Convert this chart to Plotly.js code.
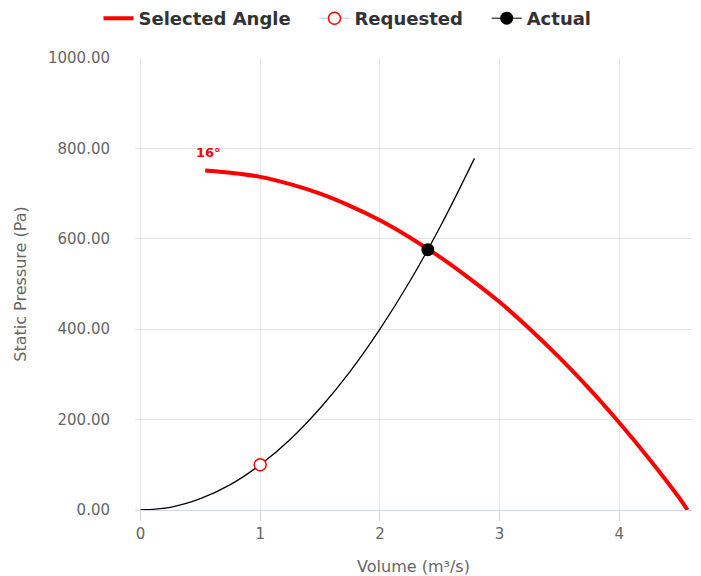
<!DOCTYPE html>
<html>
<head>
<meta charset="utf-8">
<script src="https://cdn.plot.ly/plotly-3.0.1.min.js"></script>
<style>html,body{margin:0;padding:0;background:#fff}#chart{width:701px;height:576px}</style>
</head>
<body>
<div id="chart"></div>
<script>
// Fan curve (Selected Angle 16°)
const fanVolume = [0.54, 0.75, 1.0, 1.25, 1.5, 1.75, 2.0, 2.25, 2.5, 2.75, 3.0, 3.25, 3.5, 3.75, 4.0, 4.25, 4.5, 4.57];
const fanPressure = [751, 746, 737, 721, 700, 673, 641, 603, 560, 512, 460, 401, 337, 268, 193, 113, 27, 0];
// System curve
const sysVolume = [0, 0.25, 0.5, 0.75, 1.0, 1.25, 1.5, 1.75, 2.0, 2.25, 2.5, 2.79];
const sysPressure = [0, 6, 25, 56, 100, 156, 225, 306, 400, 506, 625, 778];
// Operating points
const requestedVolume = [1.0];
const requestedPressure = [100];
const actualVolume = [2.4];
const actualPressure = [576];
const angleLabel = "16°";
const seriesNames = ["Selected Angle", "Requested", "Actual"];
const yTicks = [0, 200, 400, 600, 800, 1000];
const xTicks = [0, 1, 2, 3, 4];

const font = "DejaVu Sans";
const pad = '\u00a0\u00a0\u00a0';
const traces = [
  {x: sysVolume, y: sysPressure, type: 'scatter', mode: 'lines', line: {color: '#000', width: 1.3, shape: 'spline', smoothing: 1}, showlegend: false, hoverinfo: 'skip'},
  {x: fanVolume, y: fanPressure, type: 'scatter', mode: 'lines', name: seriesNames[0] + pad, line: {color: '#ff0000', width: 4, shape: 'spline', smoothing: 1}},
  {x: requestedVolume, y: requestedPressure, type: 'scatter', mode: 'lines+markers', name: seriesNames[1] + pad,
   line: {color: '#a8c8f0', width: 1}, marker: {size: 12, color: '#ffffff', line: {color: '#ff0000', width: 1.5}}},
  {x: actualVolume, y: actualPressure, type: 'scatter', mode: 'lines+markers', name: seriesNames[2],
   line: {color: '#000000', width: 1}, marker: {size: 13, color: '#000000'}}
];
const layout = {
  width: 701, height: 576,
  margin: {l: 135, r: 9, t: 58, b: 66, autoexpand: false},
  paper_bgcolor: '#fff', plot_bgcolor: '#fff',
  font: {family: font, color: '#666666'},
  showlegend: true,
  legend: {orientation: 'h', xref: 'container', x: 0.4957, xanchor: 'center', yref: 'container', y: 1.0, yanchor: 'top',
           font: {family: font, size: 18, color: '#333333', weight: 'bold'}, itemwidth: 30, tracegroupgap: 0},
  xaxis: {range: [-0.046, 4.607], tickvals: xTicks, ticktext: xTicks.map(String), showgrid: true, gridcolor: '#e6e6e6',
          zeroline: false, showline: true, linecolor: '#ccd6eb', linewidth: 1,
          ticks: 'outside', ticklen: 10, tickcolor: '#ccd6eb', tickfont: {size: 15, color: '#666666'},
          title: {text: 'Volume (m³/s)', font: {size: 16, color: '#666666'}, standoff: 18}},
  yaxis: {range: [0, 1000], tickvals: yTicks, tickformat: '.2f', showgrid: true, gridcolor: '#e6e6e6',
          zeroline: false, showline: false, ticks: '', ticklabelstandoff: 24, tickfont: {size: 15, color: '#666666'},
          title: {text: 'Static Pressure (Pa)', font: {size: 16, color: '#666666'}, standoff: 17}},
  annotations: [{x: fanVolume[0], y: fanPressure[0], text: angleLabel, showarrow: false, yshift: 18, xshift: 3,
                 font: {family: font, size: 13, color: '#ff0000', weight: 'bold'}}]
};
Plotly.newPlot('chart', traces, layout, {displayModeBar: false, staticPlot: true});
</script>
</body>
</html>
